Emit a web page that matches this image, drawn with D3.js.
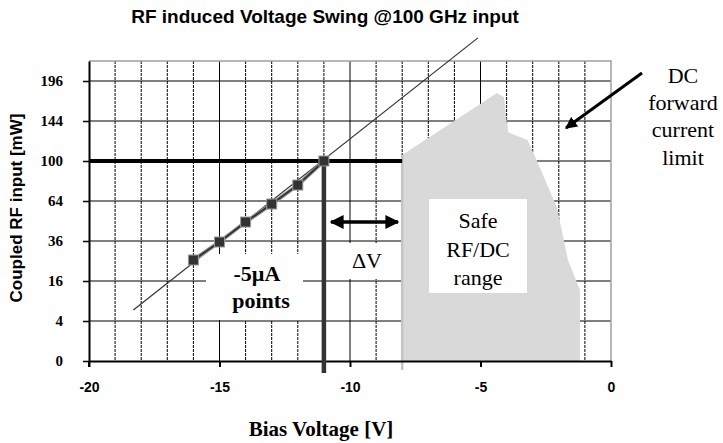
<!DOCTYPE html>
<html>
<head>
<meta charset="utf-8">
<script src="https://cdn.jsdelivr.net/npm/d3@7"></script>
<style>
  body { margin: 0; background: #fff; }
  svg { display: block; }
  .serif { font-family: "Liberation Serif", "Times New Roman", serif; }
  .sans { font-family: "Liberation Sans", Arial, sans-serif; }
</style>
</head>
<body>
<div id="chart"></div>
<script>
// -5uA points (bias voltage vs coupled RF power)
var biasV = [-16, -15, -14, -13, -12, -11];
var rfPower = [25.5, 35.4, 48.3, 61.6, 77.4, 100];

// linear trend line (sqrt scale), extended
var trendV = [-18.3, -5.1];
var trendP = [6.5, 261];

// safe RF/DC area outline
var safeV = [-8, -8, -4.37, -4.1, -3.95, -3.2, -2.9, -2.07, -1.65, -1.19, -1.19];
var safeP = [0, 106, 179.6, 174, 131, 122, 104, 59, 25.5, 12.6, 0];

var xTicks = [-20, -15, -10, -5, 0];
var yTicks = [0, 4, 16, 36, 64, 100, 144, 196];
var limitP = 100, limitV = -11;

var W = 723, H = 443;
var pLeft = 89, pRight = 611, pTop = 61, pBottom = 361;

var svg = d3.select("#chart").append("svg").attr("width", W).attr("height", H);

var x = d3.scaleLinear().domain([-20, 0]).range([pLeft, pRight]);
var y = d3.scaleSqrt().domain([0, 225]).range([pBottom, pTop]);

// grid
var g = svg.append("g");
d3.range(-19, 0).forEach(function (v) {
    g.append("line").attr("x1", x(v)).attr("x2", x(v)).attr("y1", pTop).attr("y2", pBottom)
        .style("stroke", "#000").style("stroke-width", 1)
        .style("stroke-dasharray", v % 5 == 0 ? null : "3,1");
});
yTicks.slice(1).forEach(function (p) {
    g.append("line").attr("x1", pLeft).attr("x2", pRight).attr("y1", y(p)).attr("y2", y(p))
        .style("stroke", "#000").style("stroke-width", 1);
});
// plot border (top/right)
svg.append("path").attr("d", "M" + pLeft + "," + pTop + "H" + pRight + "V" + pBottom)
    .style("fill", "none").style("stroke", "#a0a0a0").style("stroke-width", 1.5);

// safe area
var safe = safeV.map(function (v, i) { return [x(v), y(safeP[i])]; });
svg.append("path").attr("d", d3.line()(safe) + "Z").style("fill", "#d9d9d9");
svg.append("line").attr("x1", x(safeV[0])).attr("x2", x(safeV[0]))
    .attr("y1", y(safeP[1])).attr("y2", pBottom + 9)
    .style("stroke", "#c4c4c4").style("stroke-width", 2.5);

// white label boxes
[[429, 199, 98, 94], [340, 243, 56, 36], [206, 254, 97, 66]].forEach(function (b) {
    svg.append("rect").attr("x", b[0]).attr("y", b[1]).attr("width", b[2]).attr("height", b[3])
        .style("fill", "#fff");
});

// axes
var xAxis = svg.append("g").attr("transform", "translate(0," + pBottom + ")")
    .call(d3.axisBottom(x).tickValues(xTicks).tickSize(6).tickSizeOuter(0)
        .tickFormat(function (d) { return String(d); }));
xAxis.select(".domain").style("stroke-width", 2);
xAxis.selectAll("line").style("stroke-width", 2);
xAxis.selectAll("text").attr("class", "sans").style("font-size", "14px").style("font-weight", "bold")
    .attr("dy", "1.6em");

var yAxis = svg.append("g").attr("transform", "translate(" + pLeft + ",0)")
    .call(d3.axisLeft(y).tickValues(yTicks).tickSize(6).tickSizeOuter(0));
yAxis.select(".domain").style("stroke-width", 2);
yAxis.selectAll("line").style("stroke-width", 1.5);
yAxis.selectAll("text").attr("class", "serif").style("font-size", "15px").style("font-weight", "bold")
    .attr("x", -26);
svg.append("line").attr("x1", pLeft).attr("x2", pLeft).attr("y1", pBottom).attr("y2", pBottom + 6)
    .style("stroke", "#000").style("stroke-width", 2);

// limit lines
svg.append("line").attr("x1", pLeft).attr("x2", x(safeV[0])).attr("y1", y(limitP)).attr("y2", y(limitP))
    .style("stroke", "#000").style("stroke-width", 4);
svg.append("line").attr("x1", x(limitV)).attr("x2", x(limitV)).attr("y1", y(limitP)).attr("y2", pBottom + 12)
    .style("stroke", "#333").style("stroke-width", 4.5);

// trend line
svg.append("path").attr("d", d3.line()(trendV.map(function (v, i) { return [x(v), y(trendP[i])]; })))
    .style("stroke", "#333").style("stroke-width", 1.2).style("fill", "none");

// series
var pts = biasV.map(function (v, i) { return [x(v), y(rfPower[i])]; });
svg.append("path").attr("d", d3.line()(pts))
    .style("stroke", "#9a9a9a").style("stroke-width", 4).style("fill", "none");
svg.append("path").attr("d", d3.line()(pts))
    .style("stroke", "#333").style("stroke-width", 2).style("fill", "none");
svg.selectAll("rect.pt").data(pts).enter().append("rect").attr("class", "pt")
    .attr("x", function (d) { return d[0] - 5; }).attr("y", function (d) { return d[1] - 5; })
    .attr("width", 10).attr("height", 10)
    .style("fill", "#333").style("stroke", "#999").style("stroke-width", 1);

// arrows
var defs = svg.append("defs");
defs.append("marker").attr("id", "ah").attr("viewBox", "0 0 10 10").attr("refX", 9).attr("refY", 5)
    .attr("markerWidth", 4).attr("markerHeight", 4).attr("orient", "auto-start-reverse")
    .append("path").attr("d", "M0,0L10,5L0,10Z").style("fill", "#000");
svg.append("line").attr("x1", 331).attr("x2", 398).attr("y1", 222).attr("y2", 222)
    .style("stroke", "#000").style("stroke-width", 3.5)
    .attr("marker-start", "url(#ah)").attr("marker-end", "url(#ah)");
svg.append("line").attr("x1", 642).attr("x2", 566).attr("y1", 73).attr("y2", 128)
    .style("stroke", "#000").style("stroke-width", 3)
    .attr("marker-end", "url(#ah)");

// texts
function txt(s, px, py, size, cls, bold, anchor) {
    return svg.append("text").attr("x", px).attr("y", py).attr("class", cls)
        .style("font-size", size + "px").style("font-weight", bold ? "bold" : "normal")
        .attr("text-anchor", anchor || "middle").text(s);
}
txt("RF induced Voltage Swing @100 GHz input", 325, 23, 19, "sans", true);
txt("Bias Voltage [V]", 321, 436, 21, "serif", true);
svg.append("text").attr("transform", "translate(22,208) rotate(-90)").attr("class", "sans")
    .style("font-size", "17px").style("font-weight", "bold").attr("text-anchor", "middle")
    .text("Coupled RF input [mW]");

txt("-5\u00b5A", 257, 281, 22, "serif", true);
txt("points", 261, 308, 22, "serif", true);
txt("\u0394V", 367, 268, 22, "serif", false);
txt("Safe", 478, 228, 22, "serif", false);
txt("RF/DC", 478, 257, 22, "serif", false);
txt("range", 478, 285, 22, "serif", false);
txt("DC", 683, 83, 22, "serif", false);
txt("forward", 683, 110, 22, "serif", false);
txt("current", 683, 137, 22, "serif", false);
txt("limit", 683, 165, 22, "serif", false);
</script>
</body>
</html>
